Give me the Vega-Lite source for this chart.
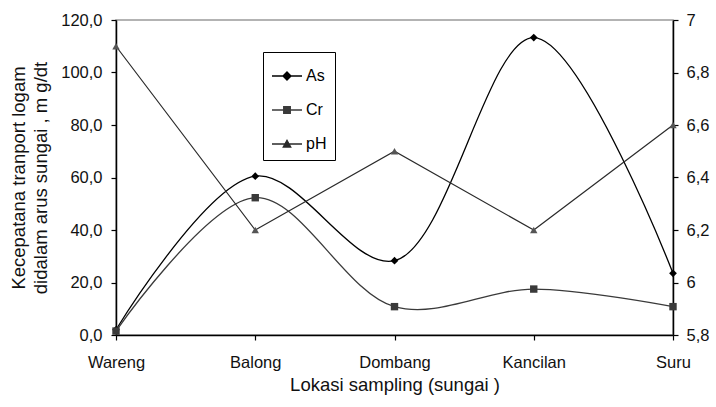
{
  "$schema": "https://vega.github.io/schema/vega-lite/v6.json",
  "autosize": "none",
  "width": 557,
  "height": 315,
  "padding": {"left": 116, "top": 20, "right": 43, "bottom": 72},
  "background": "white",
  "config": {
    "font": "Liberation Sans",
    "view": {"stroke": "#9a9a9a", "strokeWidth": 1.5},
    "axis": {
      "domainColor": "black", "domainWidth": 1.5, "tickColor": "black", "tickWidth": 1.2,
      "labelFont": "Liberation Sans", "labelFontSize": 16.5, "labelColor": "#111",
      "titleFont": "Liberation Sans", "titleFontSize": 18.5, "titleFontWeight": "normal", "titleColor": "#111",
      "grid": false
    }
  },
  "data": {
    "values": [
      {"lokasi": "Wareng", "series": "As", "value": 2.0},
      {"lokasi": "Balong", "series": "As", "value": 60.5},
      {"lokasi": "Dombang", "series": "As", "value": 28.3},
      {"lokasi": "Kancilan", "series": "As", "value": 113.3},
      {"lokasi": "Suru", "series": "As", "value": 23.5},
      {"lokasi": "Wareng", "series": "Cr", "value": 1.5},
      {"lokasi": "Balong", "series": "Cr", "value": 52.3},
      {"lokasi": "Dombang", "series": "Cr", "value": 10.8},
      {"lokasi": "Kancilan", "series": "Cr", "value": 17.5},
      {"lokasi": "Suru", "series": "Cr", "value": 10.8},
      {"lokasi": "Wareng", "series": "pH", "value": 6.9},
      {"lokasi": "Balong", "series": "pH", "value": 6.2},
      {"lokasi": "Dombang", "series": "pH", "value": 6.5},
      {"lokasi": "Kancilan", "series": "pH", "value": 6.2},
      {"lokasi": "Suru", "series": "pH", "value": 6.6}
    ]
  },
  "encoding": {
    "x": {
      "field": "lokasi", "type": "nominal", "sort": ["Wareng", "Balong", "Dombang", "Kancilan", "Suru"],
      "scale": {"type": "point", "padding": 0},
      "axis": {"title": "Lokasi sampling (sungai )", "labelAngle": 0, "tickSize": 5, "labelPadding": 14, "titlePadding": 5}
    }
  },
  "layer": [
    {
      "transform": [{"filter": "datum.series !== 'pH'"}],
      "encoding": {
        "y": {
          "field": "value", "type": "quantitative",
          "scale": {"domain": [0, 120], "nice": false, "zero": true},
          "axis": {
            "values": [0, 20, 40, 60, 80, 100, 120],
            "labelExpr": "replace(format(datum.value, '.1f'), '.', ',')",
            "title": ["Kecepatana tranport logam", "didalam arus sungai , m g/dt"],
            "tickSize": 5, "labelPadding": 9, "titlePadding": 10, "titleLineHeight": 22
          }
        },
        "color": {
          "field": "series", "type": "nominal",
          "scale": {"domain": ["As", "Cr", "pH"], "range": ["#000000", "#3a3a3a", "#2a2a2a"]},
          "legend": {
            "title": null, "orient": "none", "legendX": 147, "legendY": 32,
            "strokeColor": "black", "padding": 8, "rowPadding": 10,
            "symbolSize": 900, "symbolStrokeWidth": 1.3, "labelFontSize": 16, "labelOffset": 3,
            "symbolType": "M-1,0H1M0,-0.27L0.27,0L0,0.27L-0.27,0Z",
            "encode": {
              "symbols": {
                "update": {
                  "shape": {"signal": "datum.value === 'As' ? 'M-1,0H1M0,-0.27L0.27,0L0,0.27L-0.27,0Z' : datum.value === 'Cr' ? 'M-1,0H1M-0.22,-0.22H0.22V0.22H-0.22Z' : 'M-1,0H1M-0.25,0.2L0,-0.25L0.25,0.2Z'"},
                  "fill": {"signal": "datum.value === 'As' ? '#000' : datum.value === 'Cr' ? '#444' : '#666'"},
                  "stroke": {"signal": "datum.value === 'As' ? '#000' : '#333'"},
                  "opacity": {"value": 1}
                }
              }
            }
          }
        }
      },
      "layer": [
        {"mark": {"type": "line", "interpolate": "catmull-rom", "strokeWidth": 1.3}},
        {
          "transform": [{"filter": "datum.series === 'As'"}],
          "mark": {"type": "point", "filled": true, "size": 60, "opacity": 1, "shape": "diamond"}
        },
        {
          "transform": [{"filter": "datum.series === 'Cr'"}],
          "mark": {"type": "point", "filled": true, "size": 55, "opacity": 1, "shape": "square", "color": "#444"}
        }
      ]
    },
    {
      "transform": [{"filter": "datum.series === 'pH'"}],
      "encoding": {
        "y": {
          "field": "value", "type": "quantitative",
          "scale": {"domain": [5.8, 7], "nice": false, "zero": false},
          "axis": {
            "orient": "right", "values": [5.8, 6, 6.2, 6.4, 6.6, 6.8, 7],
            "labelExpr": "replace(format(datum.value, '~g'), '.', ',')",
            "title": null, "tickSize": 5, "labelPadding": 8
          }
        }
      },
      "layer": [
        {"mark": {"type": "line", "strokeWidth": 1.2, "color": "#2a2a2a"}},
        {"mark": {"type": "point", "filled": true, "size": 55, "opacity": 1, "color": "#555", "shape": "triangle-up"}}
      ]
    }
  ],
  "resolve": {"scale": {"y": "independent"}}
}
